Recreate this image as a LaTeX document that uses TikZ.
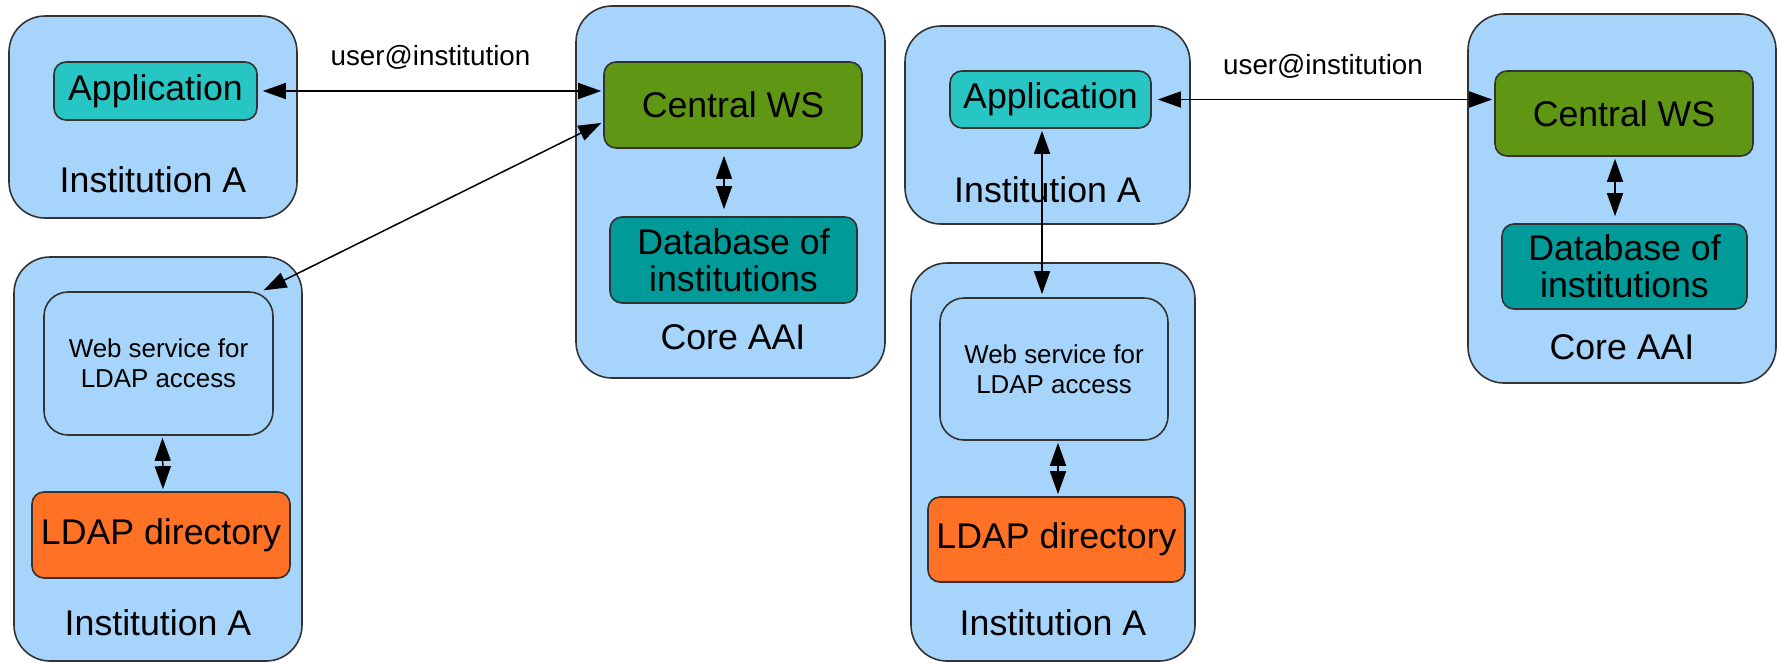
\documentclass[tikz,border=0pt]{standalone}
\usepackage{fontspec}
\setmainfont{Liberation Sans}
\usepackage{tikz}
\usetikzlibrary{arrows.meta,positioning}
\definecolor{cloud}{HTML}{A6D4FA}
\definecolor{appcolor}{HTML}{27C5C3}
\definecolor{wscolor}{HTML}{5F9614}
\definecolor{dbcolor}{HTML}{009B98}
\definecolor{ldapcolor}{HTML}{FF7124}
\definecolor{edge}{HTML}{333333}
\newcommand{\boxfont}{\fontsize{35.7}{37}\selectfont}
\newcommand{\wsfont}{\fontsize{25.9}{30}\selectfont}
\newcommand{\tagfont}{\fontsize{27.8}{30}\selectfont}
\tikzstyle{container} = [rectangle, rounded corners=36pt, fill=cloud, draw=edge, line width=1.6pt]
\tikzstyle{process} = [rectangle, rounded corners=12pt, draw=edge, line width=1.6pt, inner sep=0pt, align=center, font=\boxfont]
\tikzstyle{service} = [process, rounded corners=24pt, fill=cloud, font=\wsfont]
\tikzstyle{caption} = [font=\boxfont]
\tikzstyle{tag} = [font=\tagfont]
\tikzstyle{arrow} = [<->, >={Triangle[length=23pt,width=16pt]}, line width=1.5pt, draw=black]

\begin{document}
\begin{tikzpicture}[x=1pt, y=-1pt]
  \useasboundingbox (0,0) rectangle (1779,662);
  % left: the web service is reached through the core
  \node[container, minimum width=288pt, minimum height=202pt] (instTL) at (153,117) {};
  \node[process, fill=appcolor, minimum width=203pt, minimum height=58pt, above of=instTL, node distance=26pt, xshift=2.5pt] (appL) {Application};
  \node[caption, below of=instTL, node distance=63pt] (labTL) {Institution A};
  \node[container, minimum width=288pt, minimum height=404pt] (instBL) at (158,459) {};
  \node[service, minimum width=229pt, minimum height=143pt, above of=instBL, node distance=95.5pt, xshift=0.5pt] (webL) {Web service for\\LDAP access};
  \node[process, fill=ldapcolor, minimum width=258pt, minimum height=86pt, below of=instBL, node distance=76pt, xshift=3pt] (ldapL) {LDAP directory};
  \node[caption, below of=instBL, node distance=164pt] (labBL) {Institution A};
  \node[container, minimum width=309pt, minimum height=372pt] (coreL) at (730.5,192) {};
  \node[process, fill=wscolor, minimum width=258pt, minimum height=86pt, above of=coreL, node distance=87pt, xshift=2.5pt] (centralL) {Central WS};
  \node[process, fill=dbcolor, minimum width=247pt, minimum height=86pt, below of=coreL, node distance=68pt, xshift=3pt] (dbL) {Database of\\institutions};
  \node[caption, below of=coreL, node distance=145pt, xshift=2.5pt] (labCL) {Core AAI};
  \draw[arrow, shorten <=5pt, shorten >=2pt] (appL.east) -- (appL.east -| centralL.west) node[tag, midway, yshift=34pt] (userL) {user@institution};
  \draw[arrow, shorten <=2pt, shorten >=2pt] ([yshift=-17pt]centralL.west) -- ([xshift=-12pt]webL.north east);
  \draw[arrow, shorten <=7pt, shorten >=7pt] ([xshift=-9pt]centralL.south) -- ([xshift=-9.5pt]dbL.north);
  \draw[arrow, shorten <=2pt, shorten >=2pt] ([xshift=4pt]webL.south) -- ([xshift=2pt]ldapL.north);

  % right: the application calls the web service directly
  \node[container, minimum width=285pt, minimum height=198pt] (instTR) at (1047.5,125) {};
  \node[process, fill=appcolor, minimum width=201pt, minimum height=57pt, above of=instTR, node distance=25.5pt, xshift=3pt] (appR) {Application};
  \node[caption, below of=instTR, node distance=65pt] (labTR) {Institution A};
  \node[container, minimum width=284pt, minimum height=398pt] (instBR) at (1053,462) {};
  \node[service, minimum width=228pt, minimum height=142pt, above of=instBR, node distance=93pt, xshift=1pt] (webR) {Web service for\\LDAP access};
  \node[process, fill=ldapcolor, minimum width=257pt, minimum height=85pt, below of=instBR, node distance=77.5pt, xshift=3.5pt] (ldapR) {LDAP directory};
  \node[caption, below of=instBR, node distance=161pt] (labBR) {Institution A};
  \node[container, minimum width=308pt, minimum height=369pt] (coreR) at (1622,198.5) {};
  \node[process, fill=wscolor, minimum width=258pt, minimum height=85pt, above of=coreR, node distance=85pt, xshift=2pt] (centralR) {Central WS};
  \node[process, fill=dbcolor, minimum width=245pt, minimum height=85pt, below of=coreR, node distance=68pt, xshift=2.5pt] (dbR) {Database of\\institutions};
  \node[caption, below of=coreR, node distance=148.5pt] (labCR) {Core AAI};
  \draw[arrow, shorten <=6pt, shorten >=2pt] (appR.east) -- (appR.east -| centralR.west) node[tag, midway, yshift=33pt] (userR) {user@institution};
  \draw[arrow, shorten <=2pt, shorten >=3pt] ([xshift=-8.5pt]appR.south) -- ([xshift=-8.5pt]appR.south |- webR.north);
  \draw[arrow, shorten <=2pt, shorten >=7pt] ([xshift=-9pt]centralR.south) -- ([xshift=-9.5pt]dbR.north);
  \draw[arrow, shorten <=2pt, shorten >=2pt] ([xshift=4pt]webR.south) -- ([xshift=1.5pt]ldapR.north);
\end{tikzpicture}
\end{document}
